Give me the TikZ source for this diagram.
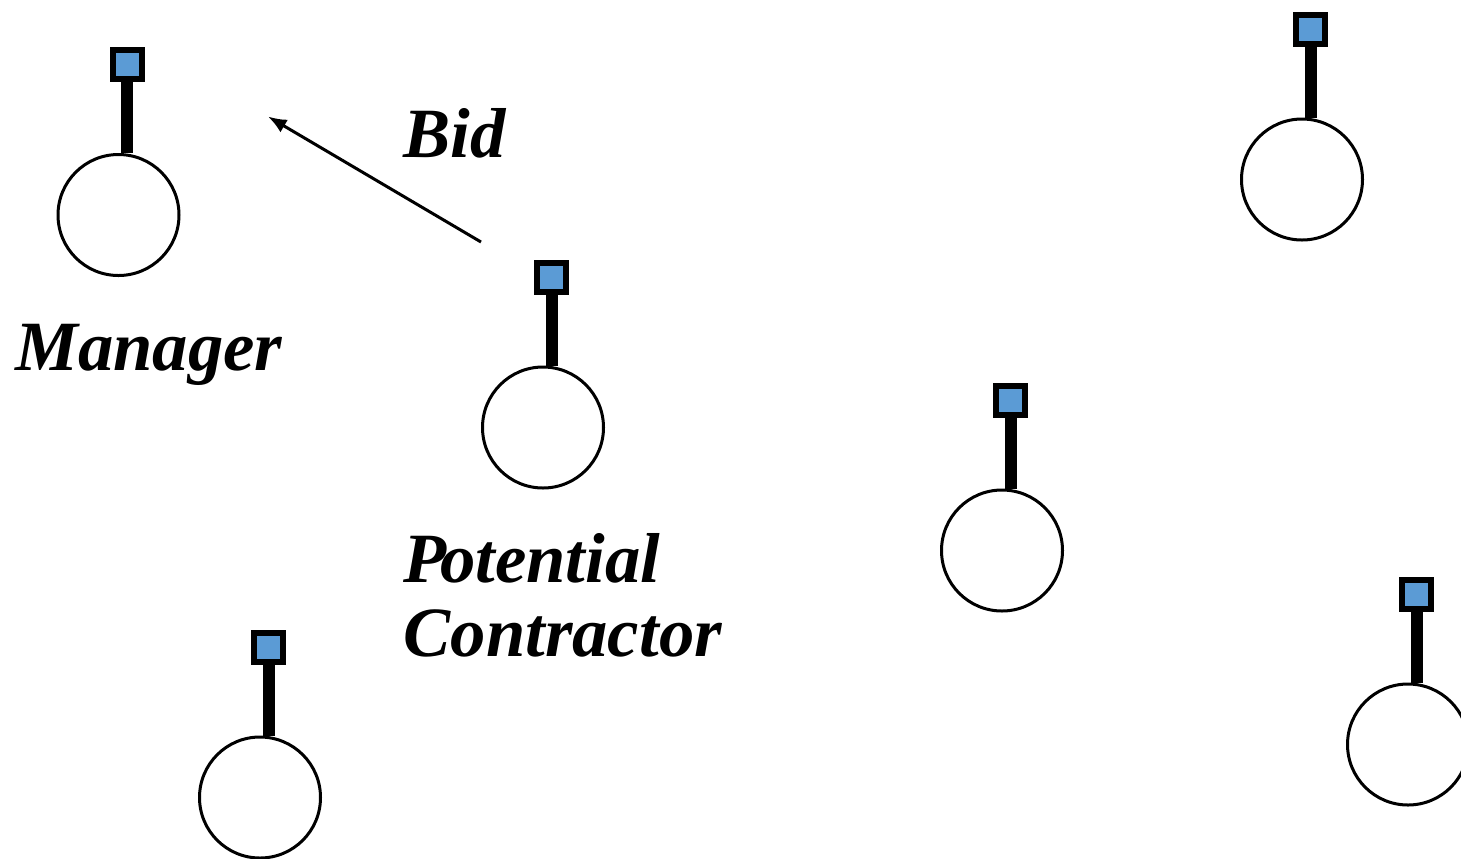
\documentclass[tikz,border=0pt]{standalone}
\usepackage{fontspec}
\usetikzlibrary{arrows.meta}
\setmainfont{Liberation Serif}
\definecolor{tipblue}{HTML}{5B9BD5}
\tikzset{
    body/.style={circle, draw, line width=2.25pt, minimum size=90.75pt, inner sep=0pt},
    tip/.style={rectangle, draw, line width=4.5pt, fill=tipblue, minimum size=21.75pt, inner sep=0pt},
    stick/.style={line width=9pt},
    tag/.style={font=\fontsize{53}{55.5}\selectfont\bfseries\itshape, align=left, inner sep=0pt}
}
\begin{document}
\begin{tikzpicture}[x=0.75pt, y=-0.75pt]
    \useasboundingbox (0, 0) rectangle (1461, 858);
    \foreach \name/\x/\y in {manager/118.5/215, contractor/543/427.5, agentc/1002/550.5, agentd/1302/179.5, agente/1408/744.5, agentf/260/797.5} {
        \node [body] (\name) at (\x, \y) {};
        \node [tip] (\name tip) at (\x + 8.5, \y - 150.5) {};
        \draw [stick] (\name tip.south) -- (\x + 8.5, \y - 62);
    }
    \coordinate (bidstart) at (481, 242);
    \coordinate (bidend) at (268, 116.5);
    \draw [-{Latex[length=14pt, width=11pt]}, line width=2.25pt] (bidstart) -- (bidend);
    \node [tag, anchor=base west] (bid) at (403, 157) {Bid};
    \node [tag, anchor=base west] (managerlabel) at (15, 370) {Manager};
    \node [tag, anchor=base west] (contractorlabel) at (403.5, 656) {P\kern-5pt otential\\Contractor};
\end{tikzpicture}
\end{document}
